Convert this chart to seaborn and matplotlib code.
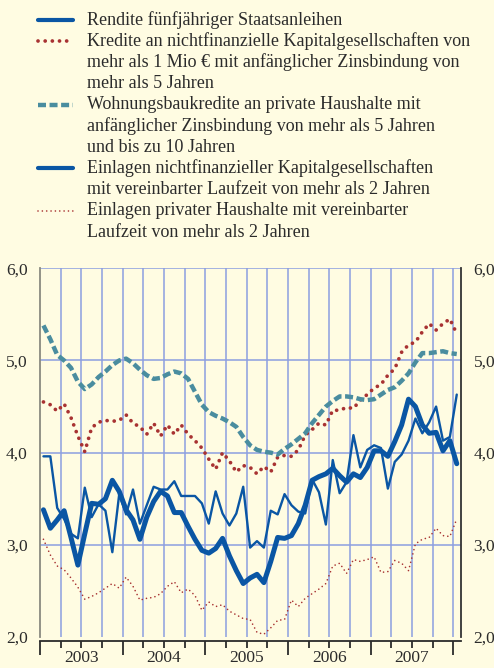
import numpy as np
import pandas as pd
import matplotlib
matplotlib.use("Agg")
import matplotlib.pyplot as plt
from matplotlib.lines import Line2D
from matplotlib.ticker import MultipleLocator
import seaborn as sns

# monthly values, Jan 2003 - Jan 2008 (61 months)
rendite = [3.38, 3.18, 3.27, 3.37, 3.08, 2.78, 3.12, 3.45, 3.44, 3.50, 3.70, 3.58,
           3.38, 3.27, 3.06, 3.30, 3.47, 3.58, 3.53, 3.35, 3.35, 3.20, 3.06, 2.94,
           2.91, 2.96, 3.07, 2.88, 2.72, 2.58, 2.64, 2.68, 2.59, 2.82, 3.08, 3.07,
           3.10, 3.23, 3.43, 3.70, 3.74, 3.77, 3.83, 3.75, 3.68, 3.77, 3.73, 3.84,
           4.02, 4.02, 3.96, 4.12, 4.30, 4.58, 4.50, 4.30, 4.21, 4.22, 4.02, 4.13,
           3.88]
kredite_nfk = [4.55, 4.52, 4.45, 4.53, 4.38, 4.18, 4.01, 4.27, 4.33, 4.35, 4.34, 4.35,
               4.41, 4.32, 4.28, 4.20, 4.32, 4.18, 4.30, 4.20, 4.30, 4.20, 4.13, 4.05,
               3.93, 3.82, 4.00, 3.91, 3.79, 3.86, 3.84, 3.77, 3.85, 3.79, 3.95, 3.97,
               3.96, 4.03, 4.19, 4.25, 4.32, 4.30, 4.46, 4.46, 4.49, 4.48, 4.57, 4.63,
               4.70, 4.74, 4.84, 4.91, 5.09, 5.17, 5.20, 5.31, 5.40, 5.33, 5.40, 5.45,
               5.29]
wohnungsbau = [5.38, 5.23, 5.06, 5.00, 4.92, 4.77, 4.69, 4.74, 4.82, 4.88, 4.95, 5.00,
               5.02, 4.97, 4.90, 4.84, 4.80, 4.81, 4.85, 4.88, 4.86, 4.80, 4.66, 4.52,
               4.44, 4.40, 4.37, 4.33, 4.28, 4.17, 4.08, 4.03, 4.01, 4.00, 3.98, 4.04,
               4.09, 4.15, 4.21, 4.32, 4.41, 4.50, 4.56, 4.61, 4.61, 4.60, 4.58, 4.57,
               4.58, 4.63, 4.68, 4.71, 4.78, 4.86, 4.98, 5.08, 5.08, 5.09, 5.10, 5.08,
               5.07]
einlagen_nfk = [3.96, 3.96, 3.40, 3.28, 3.12, 3.07, 3.62, 3.30, 3.44, 3.37, 2.92, 3.55,
                3.33, 3.60, 3.23, 3.43, 3.63, 3.60, 3.60, 3.69, 3.53, 3.53, 3.53, 3.45,
                3.23, 3.58, 3.34, 3.21, 3.34, 3.63, 2.97, 3.04, 2.97, 3.37, 3.33, 3.55,
                3.43, 3.36, 3.34, 3.71, 3.57, 3.22, 3.92, 3.56, 3.68, 4.19, 3.84, 4.03,
                4.08, 4.05, 3.61, 3.90, 3.98, 4.13, 4.37, 4.21, 4.33, 4.50, 4.13, 4.17,
                4.63]
einlagen_hh = [3.06, 2.89, 2.77, 2.73, 2.64, 2.54, 2.41, 2.44, 2.48, 2.53, 2.58, 2.53,
               2.65, 2.55, 2.40, 2.42, 2.43, 2.47, 2.55, 2.60, 2.48, 2.52, 2.45, 2.29,
               2.38, 2.33, 2.35, 2.28, 2.24, 2.20, 2.19, 2.05, 2.03, 2.10, 2.18, 2.19,
               2.40, 2.33, 2.42, 2.47, 2.52, 2.58, 2.77, 2.80, 2.69, 2.84, 2.82, 2.84,
               2.87, 2.70, 2.71, 2.83, 2.80, 2.72, 3.01, 3.06, 3.08, 3.18, 3.10, 3.09,
               3.28]

years = [2003, 2004, 2005, 2006, 2007]
y_ticks = [2.0, 3.0, 4.0, 5.0, 6.0]

legend_labels = [
    ["Rendite fünfjähriger Staatsanleihen"],
    ["Kredite an nichtfinanzielle Kapitalgesellschaften von",
     "mehr als 1 Mio € mit anfänglicher Zinsbindung von",
     "mehr als 5 Jahren"],
    ["Wohnungsbaukredite an private Haushalte mit",
     "anfänglicher Zinsbindung von mehr als 5 Jahren",
     "und bis zu 10 Jahren"],
    ["Einlagen nichtfinanzieller Kapitalgesellschaften",
     "mit vereinbarter Laufzeit von mehr als 2 Jahren"],
    ["Einlagen privater Haushalte mit vereinbarter",
     "Laufzeit von mehr als 2 Jahren"],
]

# x position: middle of each month
t = 2003 + (np.arange(len(rendite)) + 0.5) / 12
df = pd.DataFrame({"t": t, "rendite": rendite, "kredite_nfk": kredite_nfk,
                   "wohnungsbau": wohnungsbau, "einlagen_nfk": einlagen_nfk,
                   "einlagen_hh": einlagen_hh})

bg = "#fffce2"
blue = "#0a56a4"
teal = "#4a8d9f"
red = "#a83232"
grid = "#8c9fe0"
txt = "#2b2b2b"

sns.set_theme(style="white")
plt.rcParams["font.family"] = ["Liberation Serif", "DejaVu Serif"]

W, H = 494, 668
fig = plt.figure(figsize=(W / 100, H / 100), dpi=100, facecolor=bg)
ax = fig.add_axes([40 / W, (H - 637) / H, 421 / W, (637 - 268.3) / H])
ax.set_facecolor(bg)

# series styles
styles = {
    "kredite_nfk": dict(color=red, linewidth=2.7, linestyle=(0, (0.01, 1.9)),
                        dash_capstyle="round"),
    "wohnungsbau": dict(color=teal, linewidth=3.2, linestyle=(0, (1.8, 0.8))),
    "einlagen_hh": dict(color=red, linewidth=1.2, linestyle=(0, (0.01, 2.6)),
                        dash_capstyle="round"),
    "einlagen_nfk": dict(color=blue, linewidth=1.7, linestyle="-"),
    "rendite": dict(color=blue, linewidth=3.6, linestyle="-"),
}
for col in ["kredite_nfk", "wohnungsbau", "einlagen_hh", "einlagen_nfk", "rendite"]:
    sns.lineplot(data=df, x="t", y=col, ax=ax, **styles[col])

ax.set_xlim(2003.03, 2008.093)
ax.set_ylim(2.0, 6.0)
ax.set_xlabel("")
ax.set_ylabel("")

# grid: vertical quarters, horizontal whole numbers
for q in np.arange(2003.25, 2008.01, 0.25):
    ax.axvline(q, color=grid, lw=1.1, zorder=0)
for yv in y_ticks[1:]:
    ax.axhline(yv, color=grid, lw=1.1, zorder=0)

ax.set_yticks(y_ticks)
ax.set_yticklabels([f"{v:.1f}".replace(".", ",") for v in y_ticks])
ax.tick_params(axis="y", left=False, right=False, labelleft=True, labelright=True,
               labelsize=12.5, labelcolor=txt, pad=3)

ax.set_xticks([y for y in range(2003, 2009)])
ax.set_xticklabels([])
ax.xaxis.set_minor_locator(MultipleLocator(0.25))
ax.tick_params(axis="x", which="major", bottom=True, length=10, width=1.3, color=txt)
ax.tick_params(axis="x", which="minor", bottom=True, length=5, width=1.3, color=txt)
for yr in years:
    ax.text(yr + 0.5, -21 / 368.7, str(yr), transform=ax.get_xaxis_transform(),
            ha="center", va="center", fontsize=12.5, color=txt)

ax.spines["top"].set_visible(False)
ax.spines["left"].set_color("#8a8a80")
ax.spines["left"].set_linewidth(1.3)
ax.spines["right"].set_color("#333333")
ax.spines["right"].set_linewidth(1.3)
ax.spines["bottom"].set_position(("outward", 3))
ax.spines["bottom"].set_color(txt)
ax.spines["bottom"].set_linewidth(1.3)

# legend at the top, drawn in figure pixels
handles = [styles["rendite"], styles["kredite_nfk"], styles["wohnungsbau"],
           styles["einlagen_nfk"], styles["einlagen_hh"]]
row = 0
for lab, st in zip(legend_labels, handles):
    y0 = 1 - (20 + row * 21.2) / H
    st = dict(st)
    if st["color"] == blue:
        st["linewidth"] = 3.0
    fig.add_artist(Line2D([38 / W, 73 / W], [y0, y0], transform=fig.transFigure, **st))
    for k, line in enumerate(lab):
        fig.text(87 / W, 1 - (20 + (row + k) * 21.2) / H, line, ha="left",
                 va="center", fontsize=13, color=txt)
    row += len(lab)

fig.savefig("out.png", dpi=100, facecolor=bg)
